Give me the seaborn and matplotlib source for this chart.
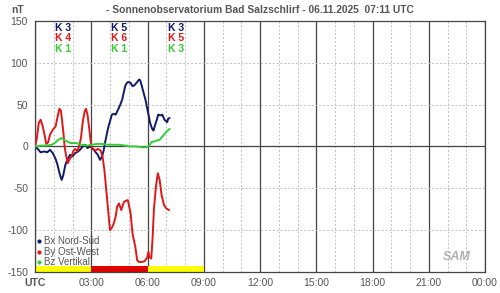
import matplotlib
matplotlib.use("Agg")
import matplotlib.pyplot as plt
import seaborn as sns
import pandas as pd
from matplotlib.lines import Line2D

# ---- data ----
bx_t = [0.0, 0.15, 0.3, 0.5, 0.65, 0.8, 0.95, 1.1, 1.2, 1.32, 1.42, 1.5, 1.62, 1.72, 1.87, 2.0, 2.14, 2.3, 2.4,
        2.55, 2.67, 2.8, 2.94, 3.1, 3.2, 3.35, 3.47, 3.58, 3.66, 3.74, 3.85, 3.92, 4.0, 4.1, 4.2, 4.3, 4.43,
        4.55, 4.65, 4.75, 4.81, 4.9, 4.97, 5.1, 5.2, 5.3, 5.45, 5.55, 5.61, 5.7, 5.77, 5.9, 5.98, 6.08, 6.14,
        6.25, 6.32, 6.41, 6.5, 6.57, 6.7, 6.79, 6.9, 7.0, 7.05, 7.1, 7.18]
bx_v = [0, -3, -7, -6, -7, -4, -8, -15, -22, -33, -40, -35, -22, -16, -10, -12, -8, -6, -4,
        0, 2, -2, 0, -3, -6, -10, -16, -12, -5, 5, 17, 24, 30, 38, 39, 38, 44,
        50, 56, 66, 72, 76, 77, 76, 72, 73, 77, 80, 79, 72, 66, 55, 46, 35, 28,
        21, 19, 26, 32, 38, 37, 38, 32, 30, 29, 33, 34]

by_t = [0.0, 0.1, 0.2, 0.3, 0.4, 0.5, 0.6, 0.7, 0.8, 0.95, 1.1, 1.2, 1.3, 1.38, 1.45, 1.52, 1.58, 1.65, 1.75,
        1.85, 1.95, 2.05, 2.15, 2.25, 2.35, 2.45, 2.55, 2.65, 2.72, 2.8, 2.9, 3.0, 3.1, 3.2, 3.35, 3.5, 3.6,
        3.7, 3.85, 4.0, 4.1, 4.2, 4.3, 4.38, 4.48, 4.6, 4.75, 4.95, 5.1, 5.2, 5.35, 5.45, 5.55, 5.7, 5.85,
        5.98, 6.05, 6.1, 6.2, 6.27, 6.34, 6.45, 6.55, 6.65, 6.75, 6.88, 7.0, 7.15]
by_v = [0, 10, 28, 32, 25, 15, 3, 5, 14, 20, 24, 35, 45, 43, 30, 15, 0, -10, -20,
        -15, -12, -5, -3, -6, 0, 10, 30, 42, 45, 38, 20, 0, -3, -5, -3, -5, -12,
        -28, -64, -100, -97, -92, -84, -72, -68, -76, -66, -64, -80, -104, -120, -136, -138, -138, -137,
        -133, -126, -132, -134, -110, -76, -48, -32, -40, -58, -70, -74, -76]

bz_t = [0.0, 0.3, 0.6, 0.9, 1.1, 1.25, 1.4, 1.55, 1.7, 1.9, 2.2, 2.5, 2.8, 3.0, 3.3, 3.6, 3.9, 4.2, 4.5,
        4.8, 5.1, 5.4, 5.7, 5.95, 6.1, 6.2, 6.35, 6.5, 6.65, 6.8, 6.95, 7.08, 7.18]
bz_v = [0, 1, 1, 2, 5, 8, 10, 8, 6, 4, 4, 2, 1, 2, 3, 3, 2, 2, 2,
        1, 0, 0, -1, -1, 1, 5, 6, 7, 8, 12, 16, 19, 21]

series_names = ["Bx Nord-Süd", "By Ost-West", "Bz Vertikal"]
series_colors = ["#101a6a", "#e01818", "#33cc33"]

k_centers = [1.5, 4.5, 7.5]
k_bx = ["K 3", "K 5", "K 3"]
k_by = ["K 4", "K 6", "K 5"]
k_bz = ["K 1", "K 1", "K 3"]

bar_starts = [0, 3, 6]
bar_colors = ["#ffff00", "#e00000", "#ffff00"]

x_tick_labels = ["UTC", "03:00", "06:00", "09:00", "12:00", "15:00", "18:00", "21:00", "00:00"]
y_ticks = [-150, -100, -50, 0, 50, 100, 150]

title = "- Sonnenobservatorium Bad Salzschlirf - 06.11.2025  07:11 UTC"

# ---- build frame ----
df = pd.concat([
    pd.DataFrame({"h": bx_t, "v": bx_v, "s": series_names[0]}),
    pd.DataFrame({"h": by_t, "v": by_v, "s": series_names[1]}),
    pd.DataFrame({"h": bz_t, "v": bz_v, "s": series_names[2]}),
], ignore_index=True)

sns.set_style("white")
plt.rcParams["font.family"] = ["Liberation Sans", "DejaVu Sans"]

fig = plt.figure(figsize=(5.0, 2.93), dpi=100)
ax = fig.add_axes([0.07, 0.0717, 0.90, 0.857])

gray_txt = "#555555"

# grid
for h in range(0, 25):
    if h % 3 == 0:
        ax.axvline(h, color="#444444", lw=0.9, zorder=1)
    else:
        ax.axvline(h, color="#c0c0c0", lw=0.7, ls=(0, (2, 2)), zorder=1)
for y in [-100, -50, 50, 100]:
    ax.axhline(y, color="#c0c0c0", lw=0.7, ls=(0, (2, 2)), zorder=1)
ax.axhline(0, color="#444444", lw=0.9, zorder=1)

# bottom bars
for s, c in zip(bar_starts, bar_colors):
    ax.bar(s, 7, width=3, bottom=-150, align="edge", color=c, edgecolor="none", zorder=2)

sns.lineplot(data=df, x="h", y="v", hue="s", palette=dict(zip(series_names, series_colors)),
             ax=ax, lw=1.4, legend=False, sort=False, estimator=None, zorder=3)

ax.set_xlim(0, 24)
ax.set_ylim(-150, 150)
ax.set_xticks(range(0, 25, 3))
ax.set_xticklabels(x_tick_labels)
ax.set_xticks(range(0, 25), minor=True)
ax.set_yticks(y_ticks)
ax.set_yticklabels([str(v) for v in y_ticks])
ax.tick_params(axis="both", which="major", direction="out", length=3, width=0.8, color="#444444",
               labelsize=7.5, labelcolor=gray_txt, pad=2)
ax.tick_params(axis="x", which="major", pad=1)
ax.tick_params(axis="x", which="minor", direction="out", length=3, width=0.6, color="#777777")
ax.get_xticklabels()[0].set_fontweight("bold")
ax.set_xlabel("")
ax.set_ylabel("")
for sp in ax.spines.values():
    sp.set_color("#444444")
    sp.set_linewidth(0.9)

# K index labels
for xc, a, b, c in zip(k_centers, k_bx, k_by, k_bz):
    ax.text(xc, 142, a, color=series_colors[0], fontsize=7.5, fontweight="bold", ha="center", va="center")
    ax.text(xc, 130, b, color=series_colors[1], fontsize=7.5, fontweight="bold", ha="center", va="center")
    ax.text(xc, 117, c, color=series_colors[2], fontsize=7.5, fontweight="bold", ha="center", va="center")

# legend
handles = [Line2D([], [], marker="o", ms=2, ls="none", color=c) for c in series_colors]
leg = ax.legend(handles, series_names, loc="lower left", bbox_to_anchor=(-0.01, -0.005), frameon=False,
                fontsize=7, handlelength=0.5, handletextpad=0.3, labelspacing=0.05, borderaxespad=0.2)
for t in leg.get_texts():
    t.set_color(gray_txt)

fig.text(0.52, 0.965, title, ha="center", va="center", fontsize=7.4, fontweight="bold", color=gray_txt)
fig.text(0.035, 0.965, "nT", ha="center", va="center", fontsize=7.5, fontweight="bold", color=gray_txt)

# logo
ax.text(22.5, -132, "SAM", fontsize=9, fontstyle="italic", fontweight="bold", color="#b0b0b0",
        ha="center", va="center", zorder=4)

fig.savefig("out.png", dpi=100)
